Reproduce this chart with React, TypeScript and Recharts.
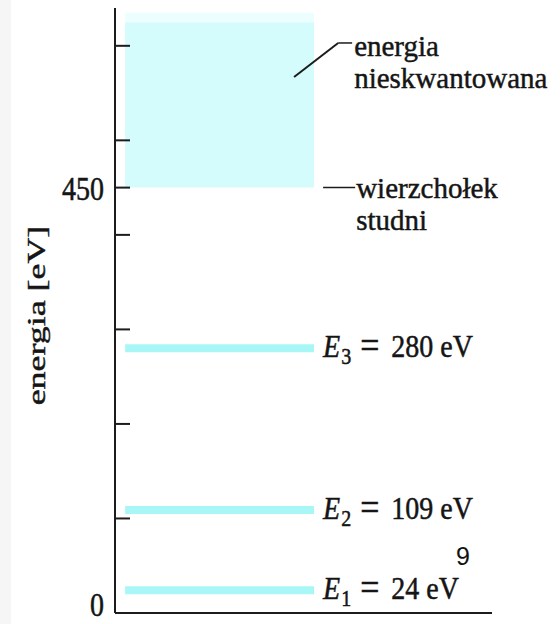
import React from "react";
import { ComposedChart, XAxis, YAxis, ReferenceArea, ReferenceLine } from "recharts";

// energy levels of the well (eV)
const levelNames = ["1", "2", "3"];
const levelEnergies = [24, 109, 280];
const wellTop = 450;
const continuumTop = 625;
const continuumFade = 635;

// axis ticks
const yTicks = [0, 100, 200, 300, 400, 450, 500, 600];
const yTickLabels = ["0", "", "", "", "", "450", "", ""];

// horizontal extent of the levels, in x-axis units (0..100)
const levelSpan = [2.7, 52.8];
// leader lines for the annotations
const topLeader = [55.2, 63.7];
const freeLeaderX = [47.5, 59.2, 62.9];
const freeLeaderY = [567, 603, 603];

const AXIS = "#1c1c1c";
const INK = "#151515";
const SERIF = "'Liberation Serif', 'Times New Roman', serif";
const LEVEL_FILL = "#a9f6f6";
const CONTINUUM_FILL = "#d5fcfc";

const rows = [0, 100].map((pos) => ({ pos }));

// text drawn a little heavier, like the scanned figure
const ink = { fill: INK, stroke: INK, strokeWidth: 0.45 };

function EnergyTick(props: any) {
  const { x, y, payload } = props;
  const label = yTickLabels[yTicks.indexOf(payload.value)];
  // the bottom label sits higher so it stays inside the frame
  const drop = payload.value === 0 ? 3 : 12.7;
  return (
    <g>
      <line x1={x} x2={x + 15} y1={y} y2={y} stroke={AXIS} strokeWidth={2} />
      {label ? (
        <text
          transform={`translate(${x - 11},${y + drop}) scale(1,1.22)`}
          textAnchor="end"
          fontFamily={SERIF}
          fontSize={28}
          {...ink}
        >
          {label}
        </text>
      ) : null}
    </g>
  );
}

function AxisTitle(props: any) {
  const vb = props.viewBox;
  return (
    <text
      transform={`translate(${vb.x + 45},${vb.y + vb.height / 2 + 5}) scale(1,1.38) rotate(-90)`}
      textAnchor="middle"
      fontFamily={SERIF}
      fontSize={26}
      {...ink}
    >
      energia [eV]
    </text>
  );
}

function LevelLabel({ viewBox, idx }: any) {
  const x = viewBox.x + viewBox.width + 9;
  const y = viewBox.y + 9;
  return (
    <text transform={`translate(${x},${y}) scale(1,1.12)`} fontFamily={SERIF} fontSize={28} {...ink}>
      <tspan fontStyle="italic">E</tspan>
      <tspan fontSize={20} dx={1} dy={6}>{levelNames[idx]}</tspan>
      <tspan fontSize={34} dx={9} dy={-5}>=</tspan>
      <tspan dx={12} dy={-1}>{`${levelEnergies[idx]} eV`}</tspan>
    </text>
  );
}

function TwoLines({ viewBox, lines, dx, dy }: any) {
  const x = viewBox.x + viewBox.width + dx;
  const y = viewBox.y + dy;
  return (
    <text fontFamily={SERIF} fontSize={29} {...ink}>
      <tspan x={x} y={y}>{lines[0]}</tspan>
      <tspan x={x} y={y + 32.5}>{lines[1]}</tspan>
    </text>
  );
}

export default function App() {
  return (
    <div style={{ position: "absolute", left: 0, top: 0, width: 560, height: 624, background: "#fff" }}>
      <div style={{ position: "absolute", left: 0, top: 0, width: 11, height: 624, background: "#f6f6f6" }} />
      <ComposedChart
        width={560}
        height={624}
        data={rows}
        margin={{ top: 8, right: 68, bottom: 10, left: 0 }}
      >
        <XAxis
          type="number"
          dataKey="pos"
          domain={[0, 100]}
          allowDataOverflow
          height={1}
          tick={false}
          tickLine={false}
          axisLine={{ stroke: AXIS, strokeWidth: 2 }}
        />
        <YAxis
          type="number"
          domain={[0, 640]}
          allowDataOverflow
          width={115}
          ticks={yTicks}
          interval={0}
          tickSize={0}
          tickMargin={0}
          tickLine={false}
          tick={<EnergyTick />}
          axisLine={{ stroke: AXIS, strokeWidth: 2 }}
          label={{ content: (p: any) => <AxisTitle {...p} /> }}
        />
        <ReferenceArea
          x1={levelSpan[0]}
          x2={levelSpan[1]}
          y1={continuumTop}
          y2={continuumFade}
          fill="#ecfefe"
          fillOpacity={1}
          stroke="none"
          ifOverflow="visible"
        />
        <ReferenceArea
          x1={levelSpan[0]}
          x2={levelSpan[1]}
          y1={wellTop}
          y2={continuumTop}
          fill={CONTINUUM_FILL}
          fillOpacity={1}
          stroke="none"
          ifOverflow="visible"
        />
        {levelEnergies.map((e, i) => (
          <ReferenceLine
            key={levelNames[i]}
            segment={[
              { x: levelSpan[0], y: e },
              { x: levelSpan[1], y: e },
            ]}
            stroke={LEVEL_FILL}
            strokeWidth={8}
            ifOverflow="visible"
            label={{ content: (p: any) => <LevelLabel viewBox={p.viewBox} idx={i} /> }}
          />
        ))}
        <ReferenceLine
          segment={[
            { x: topLeader[0], y: wellTop },
            { x: topLeader[1], y: wellTop },
          ]}
          stroke={AXIS}
          strokeWidth={1.5}
          ifOverflow="visible"
          label={{
            content: (p: any) => (
              <TwoLines viewBox={p.viewBox} lines={["wierzchołek", "studni"]} dx={1} dy={10} />
            ),
          }}
        />
        <ReferenceLine
          segment={[
            { x: freeLeaderX[0], y: freeLeaderY[0] },
            { x: freeLeaderX[1], y: freeLeaderY[1] },
          ]}
          stroke={AXIS}
          strokeWidth={2}
          ifOverflow="visible"
        />
        <ReferenceLine
          segment={[
            { x: freeLeaderX[1], y: freeLeaderY[1] },
            { x: freeLeaderX[2], y: freeLeaderY[2] },
          ]}
          stroke={AXIS}
          strokeWidth={1.5}
          ifOverflow="visible"
          label={{
            content: (p: any) => (
              <TwoLines viewBox={p.viewBox} lines={["energia", "nieskwantowana"]} dx={2} dy={13} />
            ),
          }}
        />
      </ComposedChart>
      <div
        style={{
          position: "absolute",
          left: 456,
          top: 544,
          fontFamily: "'Liberation Sans', Arial, sans-serif",
          fontSize: 25,
          lineHeight: "25px",
          color: "#111",
        }}
      >
        9
      </div>
    </div>
  );
}
